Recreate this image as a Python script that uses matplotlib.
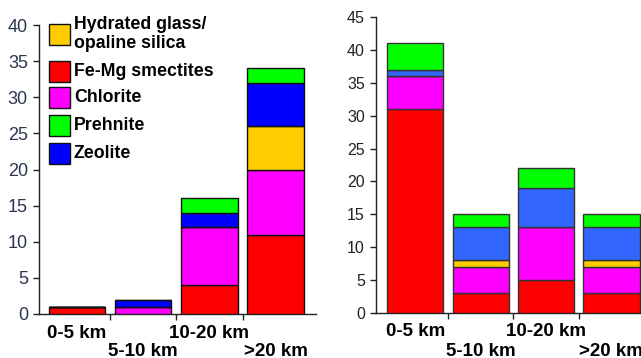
import matplotlib.pyplot as plt
from matplotlib.patches import Rectangle

# depth classes
depths = ['0-5 km', '5-10 km', '10-20 km', '>20 km']

# left panel: counts per mineral per depth class
left_smectite = [1, 0, 4, 11]
left_chlorite = [0, 1, 8, 9]
left_glass = [0, 0, 0, 6]
left_zeolite = [0, 1, 2, 6]
left_prehnite = [0, 0, 2, 2]

# right panel
right_smectite = [31, 3, 5, 3]
right_chlorite = [5, 4, 8, 4]
right_glass = [0, 1, 0, 1]
right_zeolite = [1, 5, 6, 5]
right_prehnite = [4, 2, 3, 2]

RED = '#FF0000'
MAG = '#FF00FF'
YEL = '#FFCC00'
GRN = '#00FF00'

W, H = 641, 358
plt.rcParams['font.family'] = 'Liberation Sans'

fig = plt.figure(figsize=(W / 100, H / 100), dpi=100)


def box(x0, x1, ytop, ybot):
    return [x0 / W, 1 - ybot / H, (x1 - x0) / W, (ybot - ytop) / H]


def stack(ax, layers, width, edge):
    bottom = [0] * len(depths)
    x = range(len(depths))
    for vals, col in layers:
        ax.bar(x, vals, width, bottom=bottom, color=col,
               edgecolor=edge, linewidth=1.0, zorder=3)
        bottom = [b + v for b, v in zip(bottom, vals)]


def style(ax, ymax, tsize, tcolor, xlim):
    ax.set_xlim(*xlim)
    ax.set_ylim(0, ymax)
    ax.set_yticks(range(0, ymax + 1, 5))
    for s in ('top', 'right'):
        ax.spines[s].set_visible(False)
    for s in ('left', 'bottom'):
        ax.spines[s].set_color('#222222')
        ax.spines[s].set_linewidth(1.0)
    ax.tick_params(axis='y', length=4, width=1, color='#222222',
                   labelsize=tsize, labelcolor=tcolor, pad=4)
    # category ticks sit between the bars, labels alternate in two rows
    ax.set_xticks([0.5, 1.5, 2.5])
    ax.set_xticklabels([])
    ax.tick_params(axis='x', length=4, width=1, color='#222222')
    for i, d in enumerate(depths):
        drop = 19 if i % 2 == 0 else 38
        ax.annotate(d, (i, 0), xycoords=('data', 'axes fraction'),
                    xytext=(0, -drop), textcoords='offset pixels',
                    ha='center', va='center', fontsize=13.5,
                    fontweight='bold', annotation_clip=False)
    ax.patch.set_alpha(0)


# left panel
ax1 = fig.add_axes(box(39, 316, 25, 314))
stack(ax1, [(left_smectite, RED), (left_chlorite, MAG), (left_glass, YEL),
            (left_zeolite, '#0000FF'), (left_prehnite, GRN)],
      0.85, '#111111')
style(ax1, 40, 13, '#2a3550', (-0.574, 3.61))

# right panel
ax2 = fig.add_axes(box(376, 650, 17, 313))
stack(ax2, [(right_smectite, RED), (right_chlorite, MAG), (right_glass, YEL),
            (right_zeolite, '#3366FF'), (right_prehnite, GRN)],
      0.86, '#333333')
style(ax2, 45, 11.5, '#222222', (-0.6, 3.59))

# legend drawn on the left panel
entries = [('Hydrated glass/\nopaline silica', YEL, 34),
           ('Fe-Mg smectites', RED, 71),
           ('Chlorite', MAG, 97),
           ('Prehnite', GRN, 125),
           ('Zeolite', '#0000FF', 153)]
for label, col, yc in entries:
    fig.add_artist(Rectangle((49 / W, 1 - (yc + 10.5) / H), 21 / W, 21 / H,
                             transform=fig.transFigure, facecolor=col,
                             edgecolor='#111111', linewidth=1.0))
    fig.text(74 / W, 1 - yc / H, label, fontsize=12.8, fontweight='bold',
             va='center', ha='left', linespacing=1.15)

fig.savefig('out.png', dpi=100)
